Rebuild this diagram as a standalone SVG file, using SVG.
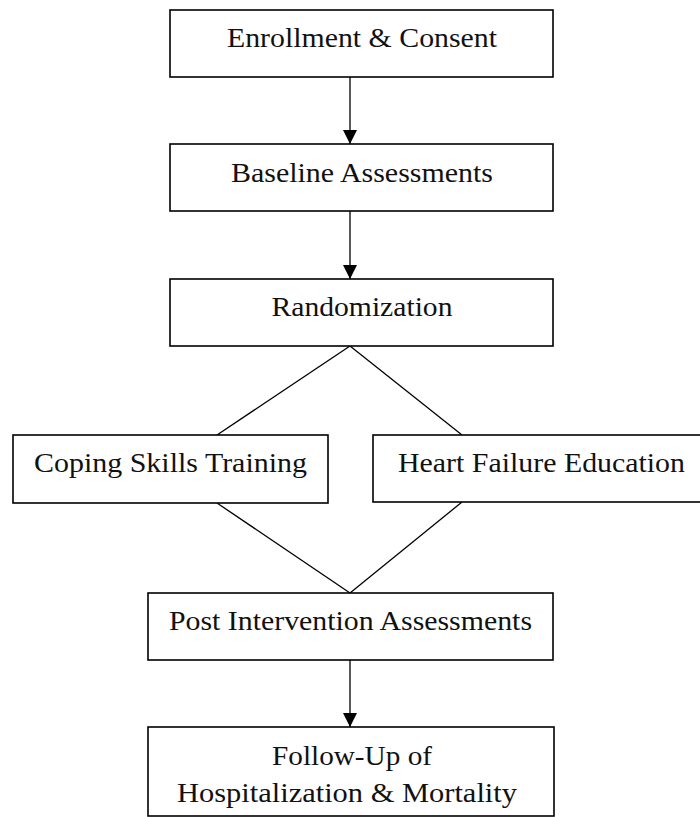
<svg xmlns="http://www.w3.org/2000/svg" width="700" height="817" viewBox="0 0 700 817">
<style>
.box{fill:#fff;stroke:#000;stroke-width:1.6}
.lbl{font-family:"Liberation Serif","Times New Roman",serif;font-size:27px;fill:#111;text-anchor:middle}
.con{stroke:#000;stroke-width:1.3;fill:none}
</style>
<defs>
<marker id="ah" viewBox="0 0 14 16" refX="14" refY="8" markerWidth="14" markerHeight="16" markerUnits="userSpaceOnUse" orient="auto">
<path d="M0,1 L14,8 L0,15 Z" fill="#000"/>
</marker>
</defs>
<g id="connectors">
<line class="con" x1="350" y1="77" x2="350" y2="144" marker-end="url(#ah)"/>
<line class="con" x1="350" y1="211" x2="350" y2="279" marker-end="url(#ah)"/>
<line class="con" x1="350" y1="660" x2="350" y2="727" marker-end="url(#ah)"/>
<line class="con" x1="350" y1="346" x2="217" y2="435"/>
<line class="con" x1="350" y1="346" x2="462" y2="435"/>
<line class="con" x1="217" y1="503" x2="350" y2="593"/>
<line class="con" x1="462" y1="502" x2="350" y2="593"/>
</g>
<g id="enrollment">
<rect class="box" x="170" y="10" width="383" height="67"/>
<text class="lbl" x="362" y="47" textLength="270" lengthAdjust="spacingAndGlyphs">Enrollment &amp; Consent</text>
</g>
<g id="baseline">
<rect class="box" x="170" y="144" width="383" height="67"/>
<text class="lbl" x="362" y="182" textLength="262" lengthAdjust="spacingAndGlyphs">Baseline Assessments</text>
</g>
<g id="randomization">
<rect class="box" x="170" y="279" width="383" height="67"/>
<text class="lbl" x="362" y="316" textLength="181" lengthAdjust="spacingAndGlyphs">Randomization</text>
</g>
<g id="coping">
<rect class="box" x="13" y="435" width="315" height="68"/>
<text class="lbl" x="170.5" y="472" textLength="273" lengthAdjust="spacingAndGlyphs">Coping Skills Training</text>
</g>
<g id="heart">
<rect class="box" x="373" y="435" width="337" height="67"/>
<text class="lbl" x="541.5" y="472" textLength="287" lengthAdjust="spacingAndGlyphs">Heart Failure Education</text>
</g>
<g id="post">
<rect class="box" x="148" y="593" width="405" height="67"/>
<text class="lbl" x="350.5" y="630" textLength="363" lengthAdjust="spacingAndGlyphs">Post Intervention Assessments</text>
</g>
<g id="followup">
<rect class="box" x="148" y="727" width="406" height="89"/>
<text class="lbl" x="352" y="765" textLength="160" lengthAdjust="spacingAndGlyphs">Follow-Up of</text>
<text class="lbl" x="347" y="802" textLength="340" lengthAdjust="spacingAndGlyphs">Hospitalization &amp; Mortality</text>
</g>
</svg>
